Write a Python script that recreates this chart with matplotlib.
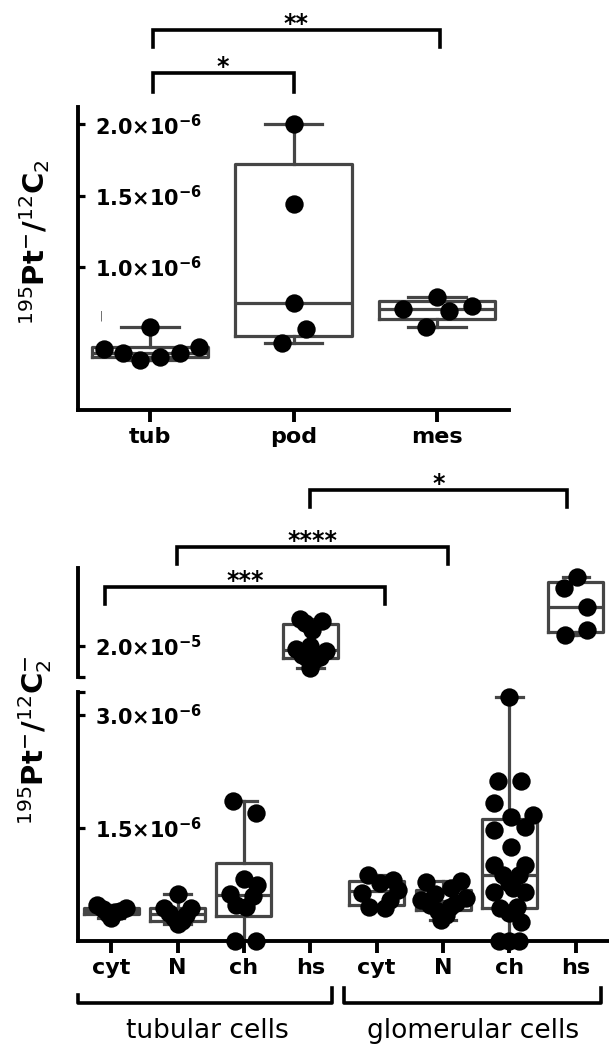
import numpy as np
import matplotlib.pyplot as plt
from matplotlib import transforms

plt.rcParams['font.family'] = ['DejaVu Sans']
plt.rcParams['mathtext.fontset'] = 'dejavusans'

# top panel, values in units of 1e-6
top_groups = ['tub', 'pod', 'mes']
tub_vals = [0.43, 0.40, 0.35, 0.37, 0.40, 0.44, 0.58]
pod_vals = [2.0, 1.44, 0.75, 0.57, 0.47]
mes_vals = [0.71, 0.79, 0.69, 0.73, 0.58]
tub_dx = [-0.32, -0.19, -0.07, 0.07, 0.21, 0.34, 0.0]
pod_dx = [0.0, 0.0, 0.0, 0.09, -0.08]
mes_dx = [-0.24, 0.0, 0.08, 0.24, -0.08]

# bottom panel, values in units of 1e-6
bottom_groups = ['cyt', 'N', 'ch', 'hs', 'cyt', 'N', 'ch', 'hs']
tub_cyt = [0.48, 0.42, 0.36, 0.30, 0.38, 0.40, 0.44]
tub_cyt_dx = [-0.21, -0.13, -0.05, 0.0, 0.06, 0.14, 0.22]
tub_n = [0.44, 0.37, 0.30, 0.62, 0.22, 0.26, 0.34, 0.44]
tub_n_dx = [-0.2, -0.13, -0.06, 0.0, 0.0, 0.06, 0.13, 0.2]
tub_ch = [1.85, 1.70, 0.82, 0.74, 0.62, 0.60, 0.48, 0.45, 0.0, 0.0]
tub_ch_dx = [-0.17, 0.18, 0.0, 0.2, -0.21, 0.14, -0.12, 0.03, -0.14, 0.18]
tub_hs = [20.85, 20.8, 20.5, 20.75, 20.0, 19.9, 19.85, 19.7, 19.65, 19.6, 19.55, 19.3]
tub_hs_dx = [-0.15, 0.17, 0.03, -0.08, 0.0, -0.22, 0.24, -0.12, 0.14, -0.05, 0.06, 0.0]
glom_cyt = [0.88, 0.81, 0.77, 0.68, 0.64, 0.55, 0.45, 0.44]
glom_cyt_dx = [-0.13, 0.25, 0.05, 0.32, -0.22, 0.2, -0.12, 0.12]
glom_n = [0.80, 0.78, 0.70, 0.62, 0.57, 0.55, 0.50, 0.48, 0.45, 0.40, 0.35, 0.28]
glom_n_dx = [0.27, -0.25, 0.12, -0.12, 0.35, -0.33, 0.2, -0.2, 0.1, -0.08, 0.05, -0.03]
glom_ch = [3.24, 2.12, 2.12, 1.83, 1.67, 1.65, 1.51, 1.47, 1.25, 1.01, 1.01, 0.88,
           0.88, 0.77, 0.70, 0.65, 0.65, 0.45, 0.44, 0.37, 0.25, 0.0, 0.0, 0.0]
glom_ch_dx = [0.0, -0.17, 0.18, -0.23, 0.35, 0.02, 0.24, -0.23, 0.02, -0.23, 0.24, -0.1,
              0.15, 0.0, 0.05, -0.23, 0.24, 0.12, -0.14, 0.0, 0.17, -0.15, 0.0, 0.15]
glom_hs = [21.86, 22.21, 21.25, 20.35, 20.51]
glom_hs_dx = [-0.18, 0.02, 0.17, -0.17, 0.17]

box_col = '#454545'
W, H = 609, 1044


def box_stats(vals, scale=1e-6):
    v = np.array(vals) * scale
    q1, med, q3 = np.percentile(v, [25, 50, 75], method='weibull')
    return dict(med=med, q1=q1, q3=q3, whislo=v.min(), whishi=v.max(), fliers=[])


def draw_group(ax, pos, vals, dx, width):
    ax.bxp([box_stats(vals)], positions=[pos], widths=width, capwidths=0.4,
           showfliers=False, manage_ticks=False,
           boxprops=dict(color=box_col, linewidth=2.3),
           whiskerprops=dict(color=box_col, linewidth=2.3),
           capprops=dict(color=box_col, linewidth=2.3),
           medianprops=dict(color=box_col, linewidth=2.3))
    ax.scatter(pos + np.array(dx), np.array(vals) * 1e-6, s=175, color='black',
               zorder=5, clip_on=False, linewidths=0)


def style_axis(ax):
    for s in ['top', 'right']:
        ax.spines[s].set_visible(False)
    for s in ['left', 'bottom']:
        ax.spines[s].set_linewidth(2.8)
    ax.tick_params(axis='y', direction='in', length=5, width=2.3, pad=-12, labelsize=15)
    ax.tick_params(axis='x', direction='out', length=8.5, width=2.8, pad=4, labelsize=16)
    for lab in ax.get_yticklabels():
        lab.set_horizontalalignment('left')
    for lab in ax.get_xticklabels():
        lab.set_fontweight('bold')


def bracket(ax, x0, x1, y_line, y_end, text, lw=2.6):
    tr = transforms.blended_transform_factory(ax.transData, ax.figure.transFigure)
    ax.plot([x0, x0, x1, x1], [1 - y_end / H, 1 - y_line / H, 1 - y_line / H, 1 - y_end / H],
            color='black', lw=lw, transform=tr, clip_on=False, solid_joinstyle='miter')
    if text:
        ax.text((x0 + x1) / 2, 1 - (y_line + 1) / H, text, transform=tr, ha='center',
                va='baseline', fontsize=17, fontweight='bold')


def sci(m, e):
    return r'$\mathbf{%s{\times}10^{%d}}$' % (m, e)


fig = plt.figure(figsize=(W / 100, H / 100), dpi=100)

# ---- top panel
ax1 = fig.add_axes([78 / W, 1 - 410 / H, (509 - 78) / W, (410 - 107) / H])
for i, (vals, dx) in enumerate([(tub_vals, tub_dx), (pod_vals, pod_dx), (mes_vals, mes_dx)]):
    draw_group(ax1, i, vals, dx, 0.81)
ax1.set_xlim(-0.5, 2.5)
ax1.set_ylim(0, 2.12e-6)
ax1.set_xticks(range(3), top_groups)
ax1.set_yticks([1.0e-6, 1.5e-6, 2.0e-6], [sci('1.0', -6), sci('1.5', -6), sci('2.0', -6)])
style_axis(ax1)
ax1.text(-0.34, 0.66e-6, '|', fontsize=7, color=box_col, ha='center', va='center')
bracket(ax1, 0.02, 1.0, 73, 92, '*')
bracket(ax1, 0.02, 2.02, 30, 47, '**')
fig.text(0.057, 1 - 242 / H, r'${}^{195}\mathbf{Pt}^{-}\mathbf{/}{}^{12}\mathbf{C}_{2}$',
         rotation=90, ha='center', va='center', fontsize=21)

# ---- bottom panel, broken y axis
ax3 = fig.add_axes([78 / W, 1 - 941 / H, (W - 78) / W, (941 - 692) / H])
ax2 = fig.add_axes([78 / W, 1 - 677 / H, (W - 78) / W, (677 - 568) / H])
lower = [(tub_cyt, tub_cyt_dx), (tub_n, tub_n_dx), (tub_ch, tub_ch_dx), None,
         (glom_cyt, glom_cyt_dx), (glom_n, glom_n_dx), (glom_ch, glom_ch_dx), None]
for i, g in enumerate(lower):
    if g is not None:
        draw_group(ax3, i, g[0], g[1], 0.83)
draw_group(ax2, 3, tub_hs, tub_hs_dx, 0.83)
draw_group(ax2, 7, glom_hs, glom_hs_dx, 0.83)

ax3.set_xlim(-0.5, 7.5)
ax3.set_ylim(0, 3.3e-6)
ax3.set_xticks(range(8), bottom_groups)
ax3.set_yticks([1.5e-6, 3.0e-6, 3.3e-6], [sci('1.5', -6), sci('3.0', -6), ''])
style_axis(ax3)

ax2.set_xlim(-0.5, 7.5)
ax2.set_ylim(1.9e-5, 2.25e-5)
ax2.set_yticks([1.9e-5, 2.0e-5], ['', sci('2.0', -5)])
style_axis(ax2)
ax2.spines['bottom'].set_visible(False)
ax2.set_xticks([])
ax2.patch.set_visible(False)

bracket(ax3, -0.1, 4.13, 587, 604, '***')
bracket(ax3, 0.99, 5.07, 547, 564, '****')
bracket(ax3, 2.99, 6.87, 490, 507, '*')

fig.text(0.057, 1 - 740 / H, r'${}^{195}\mathbf{Pt}^{-}\mathbf{/}{}^{12}\mathbf{C}_{2}^{-}$',
         rotation=90, ha='center', va='center', fontsize=21)

# group brackets under the x axis
tr = transforms.blended_transform_factory(ax3.transData, fig.transFigure)
ax3.plot([-0.5, -0.5, 3.33, 3.33], [1 - 995 / H, 1 - 1003 / H, 1 - 1003 / H, 1 - 988 / H],
         color='black', lw=2.6, transform=tr, clip_on=False)
ax3.plot([3.51, 3.51, 7.38, 7.38], [1 - 988 / H, 1 - 1003 / H, 1 - 1003 / H, 1 - 988 / H],
         color='black', lw=2.6, transform=tr, clip_on=False)
ax3.text(1.45, 1 - 1038 / H, 'tubular cells', transform=tr, ha='center', va='baseline', fontsize=19)
ax3.text(5.45, 1 - 1038 / H, 'glomerular cells', transform=tr, ha='center', va='baseline', fontsize=19)

fig.savefig('out.png', dpi=100)
